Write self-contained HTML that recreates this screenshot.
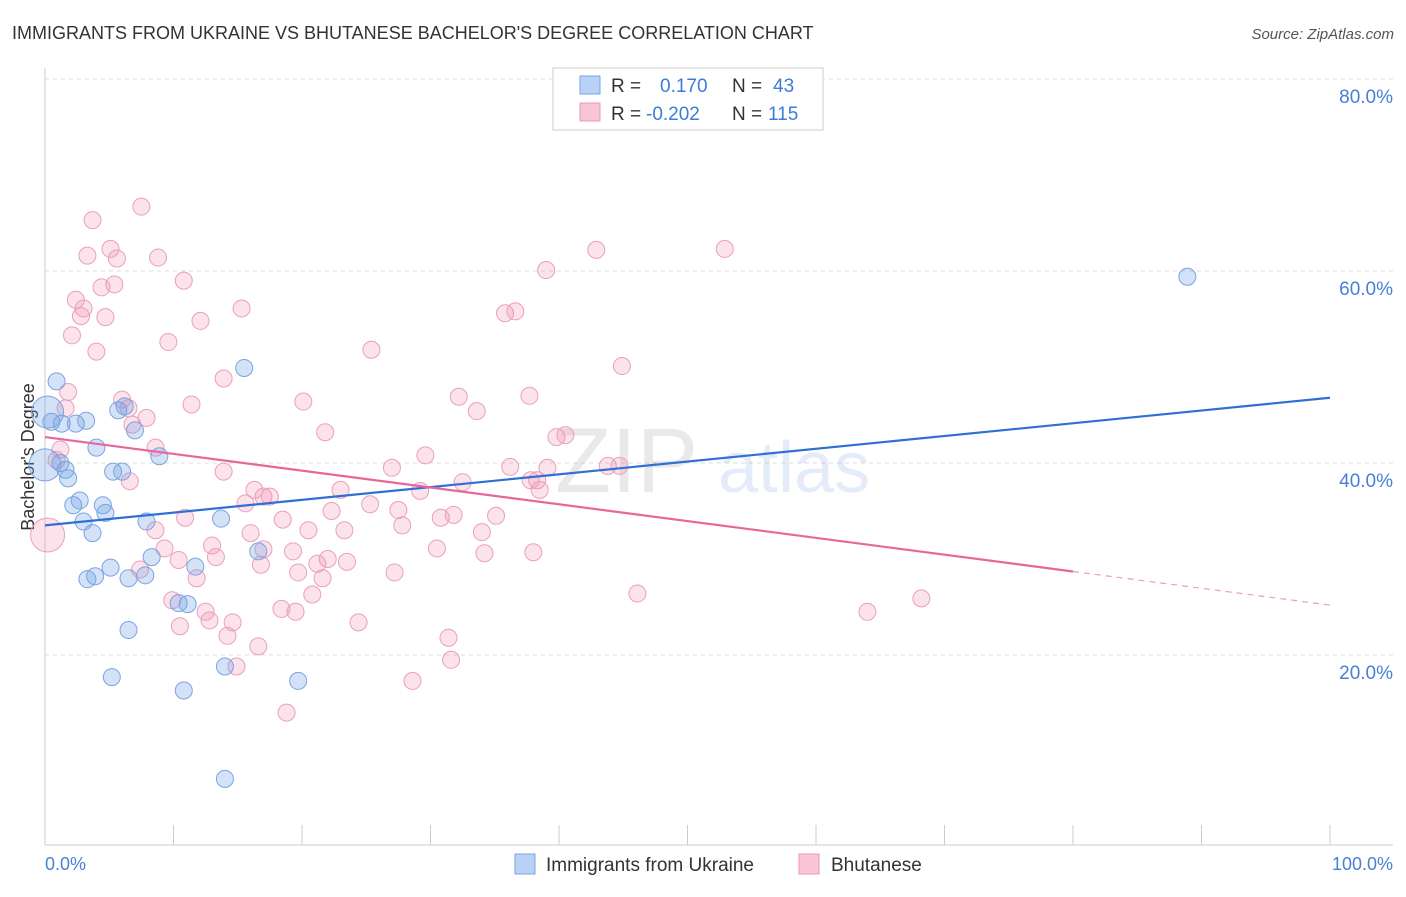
<!DOCTYPE html>
<html><head><meta charset="utf-8"><style>
body{margin:0;background:#fff;font-family:"Liberation Sans",sans-serif}
svg text{font-family:"Liberation Sans",sans-serif}
</style></head><body>
<svg id="chart" width="1406" height="892" xmlns="http://www.w3.org/2000/svg">
<text x="12" y="39" font-size="18" fill="#333">IMMIGRANTS FROM UKRAINE VS BHUTANESE BACHELOR'S DEGREE CORRELATION CHART</text>
<text x="1394" y="39" font-size="15" fill="#555" text-anchor="end" font-style="italic">Source: ZipAtlas.com</text>
<g id="grid"></g>
<g id="watermark" opacity="0.18">
<text x="555" y="492" font-size="92" font-family="Liberation Serif" fill="#888">ZIP</text>
<text x="718" y="492" font-size="72" fill="#6f9be0">atlas</text>
</g>
<line x1="45" y1="68" x2="45" y2="845" stroke="#ccc"/>
<line x1="45" y1="845" x2="1393" y2="845" stroke="#ccc"/>
<g id="ticks"></g>
<text transform="translate(34,457) rotate(-90)" font-size="18" fill="#333" text-anchor="middle">Bachelor's Degree</text>
<text x="45" y="870" font-size="18" fill="#4a7fd6">0.0%</text>
<text x="1393" y="870" font-size="18" fill="#4a7fd6" text-anchor="end">100.0%</text>
<g id="points"></g>
<g id="trends"></g>
<g>
<rect x="553" y="68" width="270" height="62" fill="#fff" stroke="#ccc"/>
<rect x="580" y="76" width="20" height="18" fill="#b9d1f5" stroke="#7aa4e0"/>
<rect x="580" y="103" width="20" height="18" fill="#f8c5d6" stroke="#e999b5"/>
<text x="611" y="92" font-size="19" fill="#333">R =</text>
<text x="660" y="92" font-size="19" fill="#3d7bd9">0.170</text>
<text x="732" y="92" font-size="19" fill="#333">N =</text>
<text x="773" y="92" font-size="19" fill="#3d7bd9">43</text>
<text x="611" y="120" font-size="19" fill="#333">R =</text>
<text x="646" y="120" font-size="19" fill="#3d7bd9">-0.202</text>
<text x="732" y="120" font-size="19" fill="#333">N =</text>
<text x="768" y="120" font-size="19" fill="#3d7bd9">115</text>
</g>
<g>
<rect x="515" y="854" width="20" height="20" fill="#b9d1f5" stroke="#7aa4e0"/>
<text x="546" y="871" font-size="19" fill="#333">Immigrants from Ukraine</text>
<rect x="799" y="854" width="20" height="20" fill="#f8c5d6" stroke="#e999b5"/>
<text x="831" y="871" font-size="19" fill="#333">Bhutanese</text>
</g>
</svg>
<script>
const yTicks=[20,40,60,80];
const yTickLabels=["20.0%","40.0%","60.0%","80.0%"];
const xTicks=[10,20,30,40,50,60,70,80,90,100];
const blueX=[0.2,0.9,0.5,1.3,2.4,3.2,1.6,1.8,1.2,4.0,2.2,2.7,4.5,4.7,3.0,3.7,5.7,6.2,7.0,5.3,6.0,8.9,7.9,8.3,5.1,3.9,3.3,6.5,7.8,6.5,5.2,10.4,11.1,11.7,13.7,15.5,16.6,14.0,10.8,19.7,14.0,88.9,0];
const blueY=[45.3,48.5,44.3,44.1,44.1,44.4,39.3,38.4,40.0,41.6,35.6,36.1,35.6,34.8,33.9,32.7,45.5,45.9,43.4,39.1,39.1,40.7,33.9,30.2,29.1,28.2,27.9,28.0,28.3,22.6,17.7,25.4,25.3,29.2,34.2,49.9,30.8,18.8,16.3,17.3,7.1,59.4,39.8];
const pinkX=[3.7,7.5,5.1,3.3,5.6,8.8,10.8,2.4,3.0,2.8,5.4,4.4,4.7,2.1,4.0,9.6,12.1,15.3,1.8,1.6,6.0,6.5,7.9,6.8,11.4,13.9,1.2,0.9,8.6,6.6,13.9,15.6,16.3,17.0,17.5,18.5,20.1,21.8,25.4,27.0,29.6,32.5,33.6,32.2,35.8,36.6,39.0,42.9,52.9,44.9,37.7,39.8,40.5,36.2,39.1,38.3,38.5,43.8,44.7,37.8,29.2,27.5,27.8,30.8,31.8,34.0,35.1,23.0,25.3,22.3,23.3,20.5,19.3,17.0,16.0,13.0,13.3,10.9,8.6,9.3,10.4,11.8,7.4,9.9,10.5,12.5,12.8,14.6,14.2,16.6,18.4,19.5,19.7,20.8,21.6,22.0,21.2,23.5,16.8,27.2,30.5,34.2,38.0,24.4,31.4,31.6,28.6,14.9,18.8,46.1,64.0,68.2,0.2];
const pinkY=[65.3,66.7,62.3,61.6,61.3,61.4,59.0,57.0,56.1,55.3,58.6,58.3,55.2,53.3,51.6,52.6,54.8,56.1,47.4,45.7,46.6,45.7,44.7,44.0,46.1,48.8,41.4,40.3,41.6,38.1,39.1,35.8,37.2,36.5,36.5,34.1,46.4,43.2,51.8,39.5,40.8,38.0,45.4,46.9,55.6,55.8,60.1,62.2,62.3,50.1,47.0,42.7,42.9,39.6,39.5,38.2,37.2,39.7,39.7,38.2,37.1,35.1,33.5,34.3,34.6,32.8,34.5,37.2,35.7,35.0,33.0,33.0,30.8,31.0,32.7,31.4,30.2,34.3,33.0,31.1,29.9,28.0,28.9,25.7,23.0,24.5,23.6,23.4,22.0,20.9,24.8,24.5,28.6,26.3,28.0,30.0,29.5,29.7,29.4,28.6,31.1,30.6,30.7,23.4,21.8,19.5,17.3,18.8,14.0,26.4,24.5,25.9,32.5];
const blueTrend=[33.5,46.8];
const pinkTrend=[42.7,25.2];
const pinkSolidEnd=80;
const NS="http://www.w3.org/2000/svg";
const xs=v=>45+v*12.85, ys=v=>847-v*9.6;
function mk(tag,attrs,parent){const e=document.createElementNS(NS,tag);for(const k in attrs)e.setAttribute(k,attrs[k]);parent.appendChild(e);return e;}
const grid=document.getElementById('grid');
yTicks.forEach((t,i)=>{
 const l=mk('line',{x1:45,x2:1393,y1:ys(t),y2:ys(t),stroke:'#ddd','stroke-dasharray':'4,4'},grid);
 
 
 const tx=mk('text',{x:1393,y:ys(t)+24,'font-size':19,fill:'#4a7fd6','text-anchor':'end'},grid);
 tx.textContent=yTickLabels[i];
 
 
});
mk('line',{x1:45,x2:1393,y1:ys(80)-0,y2:ys(80),stroke:'#ddd','stroke-dasharray':'4,4'},grid);
const ticks=document.getElementById('ticks');
xTicks.forEach(t=>{
 const l=mk('line',{x1:xs(t),x2:xs(t),y1:825,y2:845,stroke:'#ccc'},ticks);
 
 
});
const pts=document.getElementById('points');
pinkX.forEach((x,i)=>{
 const big=(i===pinkX.length-1);
 const c=mk('circle',{cx:xs(x),cy:ys(pinkY[i]),r:big?17:8.5,fill:'rgba(240,140,175,0.25)',stroke:'#eaa0bb','stroke-width':1},pts);
 
 
});
blueX.forEach((x,i)=>{
 const big=(i===0||i===blueX.length-1);
 const c=mk('circle',{cx:xs(x),cy:ys(blueY[i]),r:big?16:8.5,fill:'rgba(110,160,230,0.3)',stroke:'#7aa4e0','stroke-width':1},pts);
 
 
});
const tr=document.getElementById('trends');
const b=mk('line',{x1:xs(0),y1:ys(blueTrend[0]),x2:xs(100),y2:ys(blueTrend[1]),stroke:'#2f6fd6','stroke-width':2.2},tr);


const pAt=v=>pinkTrend[0]+(pinkTrend[1]-pinkTrend[0])*v/100;
const p=mk('line',{x1:xs(0),y1:ys(pAt(0)),x2:xs(pinkSolidEnd),y2:ys(pAt(pinkSolidEnd)),stroke:'#e8679a','stroke-width':2.2},tr);


const pd=mk('line',{x1:xs(pinkSolidEnd),y1:ys(pAt(pinkSolidEnd)),x2:xs(100),y2:ys(pAt(100)),stroke:'#e8a0bb','stroke-width':1.2,'stroke-dasharray':'6,5'},tr);


</script>
</body></html>
